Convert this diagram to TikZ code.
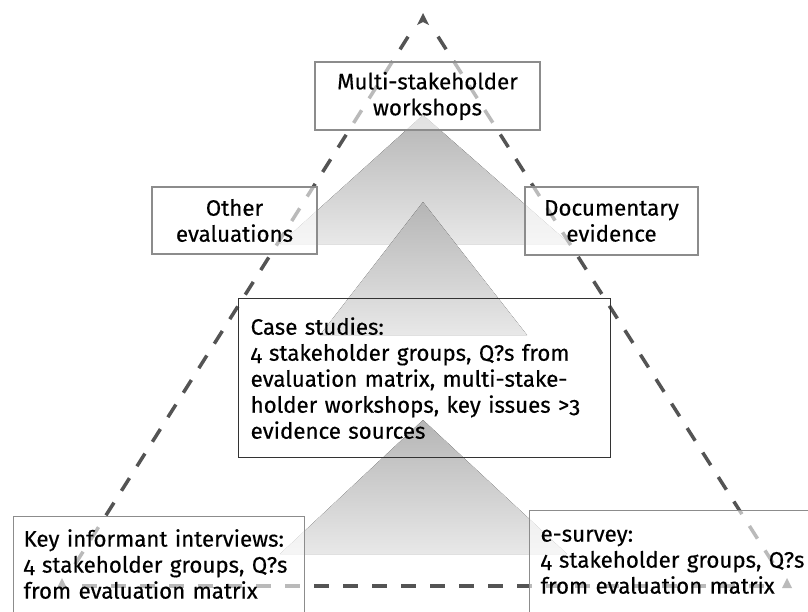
\documentclass[tikz,border=0pt]{standalone}
\usepackage{fontspec}
\setmainfont{Fira Sans}[Numbers=OldStyle,FakeBold=0.4]
\usetikzlibrary{arrows.meta}

\begin{document}
\begin{tikzpicture}[x=1pt,y=-1pt,
        font=\fontsize{22.3}{26}\selectfont,
        box/.style={draw=black!45,line width=1.2pt,fill=white,fill opacity=0.6,text opacity=1,align=center,inner sep=0pt},
        casebox/.style={draw=black!80,line width=1.3pt,align=left,inner sep=0pt},
        openbox/.style={box,align=left,anchor=north west,text height=18pt,text depth=100pt},
        wedge/.style={top color=black!29,bottom color=black!9},
        tri/.style={draw=black!67,line width=3.5pt,dash pattern=on 15pt off 14pt},
        tiphead/.style={fill=black!67}]

    \useasboundingbox (0,0) rectangle (808,611);

    % shaded wedges
    \fill[wedge] (423,115) -- (570,244) -- (280,244) -- cycle;
    \fill[wedge] (423,202) -- (527,335) -- (320,335) -- cycle;
    \fill[wedge] (423,420) -- (567,554) -- (280,554) -- cycle;

    % dashed triangle
    \coordinate (apex) at (423,13);
    \coordinate (bl) at (62,585);
    \coordinate (br) at (787,585);
    \draw[tri,shorten <=28pt,shorten >=14pt] (apex) -- (bl);
    \draw[tri,shorten <=28pt,shorten >=14pt] (apex) -- (br);
    \draw[tri] (bl) ++(20,1) -- ++(685,0);
    \fill[tiphead] (apex) -- ++(-6,12) -- ++(6,-3) -- ++(6,3) -- cycle;
    \fill[tiphead] (bl) ++(0,-7) -- ++(-5,10) -- ++(10,0) -- cycle;
    \fill[tiphead] (br) ++(0,-7) -- ++(-5,10) -- ++(10,0) -- cycle;

    % boxes
    \node[box,minimum width=225pt,minimum height=68pt] (workshops) at (427.5,96) {Multi-stakeholder\\workshops};
    \node[box,minimum width=165pt,minimum height=67pt] (othereval) at (234.5,220.5) {Other\\evaluations};
    \node[box,minimum width=173pt,minimum height=68pt] (docevidence) at (611.5,221) {Documentary\\evidence};
    \node[casebox,anchor=north west,minimum width=372pt,minimum height=159pt,text width=348pt] (casestudies) at (238,298)
        {Case studies:\\4 stakeholder groups, Q?s from\\evaluation matrix, multi-stake-\\holder workshops, key issues >3\\evidence sources};
    \node[openbox,inner xsep=10pt,inner ysep=12pt,text width=271pt] (interviews) at (13,516)
        {Key informant interviews:\\4 stakeholder groups, Q?s\\from evaluation matrix};
    \node[openbox,inner xsep=11pt,inner ysep=13pt,text width=300pt] (esurvey) at (529,510)
        {e-survey:\\4 stakeholder groups, Q?s\\from evaluation matrix};

\end{tikzpicture}
\end{document}
